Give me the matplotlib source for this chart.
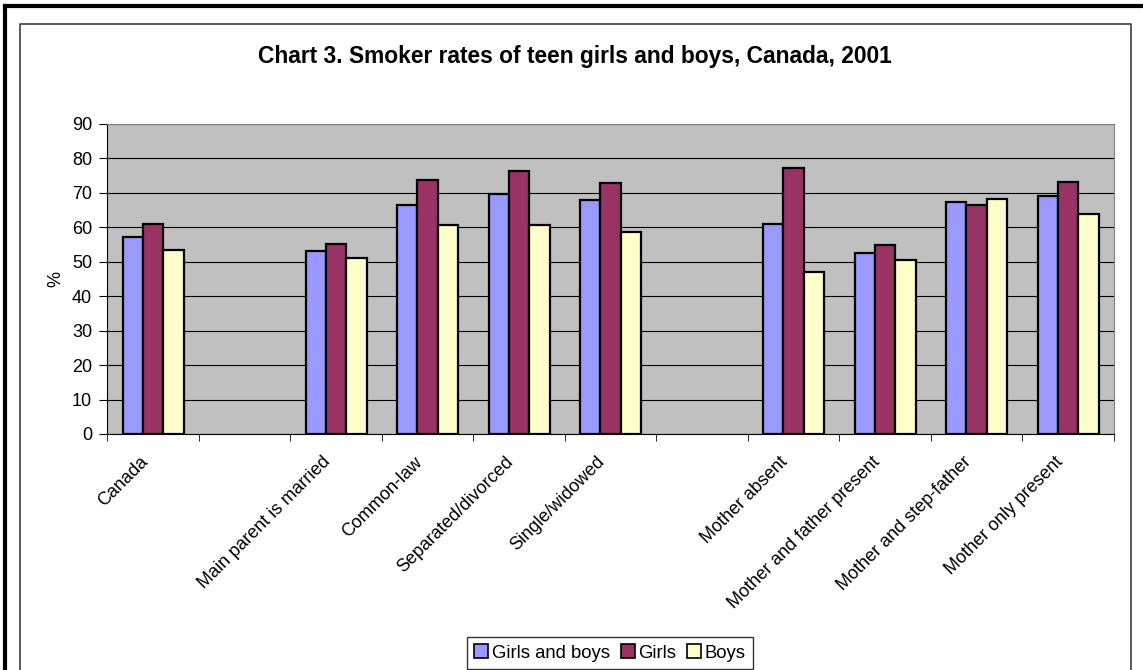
import numpy as np
import matplotlib
matplotlib.use('Agg')
import matplotlib.pyplot as plt
import matplotlib.transforms as mtransforms
from matplotlib.lines import Line2D
from matplotlib.patches import Patch

plt.rcParams['font.family'] = ['Liberation Sans', 'DejaVu Sans']

categories = ['Canada', '', 'Main parent is married', 'Common-law',
              'Separated/divorced', 'Single/widowed', '', 'Mother absent',
              'Mother and father present', 'Mother and step-father',
              'Mother only present']
girls_and_boys = [57.1, np.nan, 53.1, 66.6, 69.7, 67.8, np.nan, 60.9, 52.6, 67.4, 69.2]
girls = [60.9, np.nan, 55.2, 73.6, 76.5, 72.9, np.nan, 77.3, 55.0, 66.4, 73.1]
boys = [53.3, np.nan, 51.1, 60.6, 60.8, 58.6, np.nan, 46.9, 50.4, 68.2, 63.8]
series_names = ['Girls and boys', 'Girls', 'Boys']
colors = ['#9999FF', '#993366', '#FFFFCC']

W, H = 1143, 670
fig = plt.figure(figsize=(W / 100, H / 100), dpi=100)

# frames around the chart
fig.add_artist(Line2D([5 / W, 5 / W], [0, 1 - 6 / H], color='black', lw=3))
fig.add_artist(Line2D([5 / W, 1], [1 - 6 / H, 1 - 6 / H], color='black', lw=3))
fig.add_artist(Line2D([20 / W, 20 / W, 1131 / W, 1131 / W], [0, 1 - 24 / H, 1 - 24 / H, 0],
                      color='#404040', lw=1.2))

ax = fig.add_axes([107.3 / W, 1 - 434 / H, (1113.8 - 107.3) / W, (434 - 124) / H])
ax.set_facecolor('#C0C0C0')

x = np.arange(len(categories))
bw = 1 / 4.5
for i, (vals, c) in enumerate(zip([girls_and_boys, girls, boys], colors)):
    ax.bar(x + (i - 1) * bw, vals, width=bw, color=c, edgecolor='black',
           linewidth=1.6, zorder=3)

ax.set_xlim(-0.5, len(categories) - 0.5)
ax.set_ylim(0, 90)
ax.set_yticks(range(0, 91, 10))
ax.yaxis.grid(True, color='black', linewidth=0.8, zorder=1)
ax.set_axisbelow(True)
ax.tick_params(axis='y', labelsize=13, length=6, direction='out', pad=5)

ax.set_xticks(x)
ax.set_xticklabels(categories, rotation=45, ha='right', rotation_mode='anchor', fontsize=13)
ax.tick_params(axis='x', which='major', length=0, pad=14)
shift = mtransforms.ScaledTranslation(-14 / 100, 0, fig.dpi_scale_trans)
for lab in ax.get_xticklabels():
    lab.set_transform(lab.get_transform() + shift)
ax.set_xticks(np.arange(-0.5, len(categories)), minor=True)
ax.tick_params(axis='x', which='minor', length=5, direction='out')

for s in ['top', 'right']:
    ax.spines[s].set_color('#808080')
for s in ['left', 'bottom']:
    ax.spines[s].set_color('black')

ax.set_ylabel('%', fontsize=13, labelpad=5)

fig.text(575 / W, 1 - 57 / H, 'Chart 3. Smoker rates of teen girls and boys, Canada, 2001',
         ha='center', va='center', fontsize=16.4, fontweight='bold')

handles = [Patch(facecolor=c, edgecolor='black', linewidth=1.2) for c in colors]
leg = fig.legend(handles, series_names, loc='center', bbox_to_anchor=(610 / W, 1 - 653 / H),
                 ncol=3, fontsize=13.3, frameon=True, fancybox=False, handlelength=0.75,
                 handleheight=0.75, handletextpad=0.2, columnspacing=0.6,
                 borderpad=0.4, borderaxespad=0)
leg.get_frame().set_edgecolor('black')
leg.get_frame().set_linewidth(1)

fig.savefig('out.png', dpi=100)
